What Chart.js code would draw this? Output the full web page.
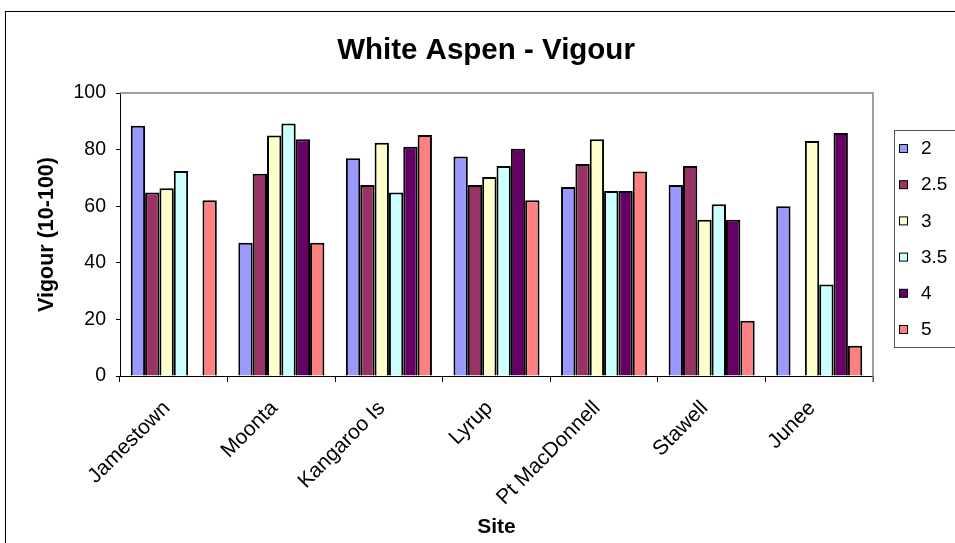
<!DOCTYPE html>
<html>
<head>
<meta charset="utf-8">
<script src="https://cdn.jsdelivr.net/npm/chart.js@4"></script>
<style>
  html, body { margin: 0; padding: 0; background: #fff; }
  #wrap { width: 955px; height: 543px; }
</style>
</head>
<body>
<div id="wrap"><canvas id="chart1" width="955" height="543"></canvas></div>
<script>
// Vigour scores per site, one array per series
const sites = ['Jamestown', 'Moonta', 'Kangaroo Is', 'Lyrup', 'Pt MacDonnell', 'Stawell', 'Junee'];
const s2   = [88.4, 47.1, 76.9, 77.6, 66.8, 67.5, 60.0];
const s2_5 = [64.8, 71.5, 67.5, 67.5, 74.9, 74.2, null];
const s3   = [66.3, 85.0, 82.4, 70.3, 83.7, 55.2, 83.0];
const s3_5 = [72.4, 89.2, 64.8, 74.2, 65.4, 60.7, 32.3];
const s4   = [null, 83.7, 81.0, 80.3, 65.4, 55.2, 85.9];
const s5   = [62.1, 47.1, 85.2, 62.1, 72.3, 19.5, 10.7];
const seriesNames = ['2', '2.5', '3', '3.5', '4', '5'];
const seriesValues = [s2, s2_5, s3, s3_5, s4, s5];
const yTicks = [0, 20, 40, 60, 80, 100];

const colours = ['#9999FF', '#993366', '#FFFFCC', '#CCFFFF', '#660066', '#FF8080'];
const FONT = '"Liberation Sans", Arial, sans-serif';

Chart.defaults.font.family = FONT;
Chart.defaults.color = '#000';

// title, frame, plot border and legend box
const excelBits = {
    id: 'excelBits',
    beforeDraw(chart) {
        const ctx = chart.ctx;
        ctx.save();
        ctx.fillStyle = '#fff';
        ctx.fillRect(0, 0, chart.width, chart.height);
        ctx.strokeStyle = '#000';
        ctx.lineWidth = 1;
        ctx.strokeRect(5.5, 11.5, 1200, 1000);
        ctx.restore();
    },
    afterDraw(chart) {
        const ctx = chart.ctx;
        const a = chart.chartArea;
        ctx.save();
        // plot area border (top + right)
        ctx.strokeStyle = '#808080';
        ctx.lineWidth = 1.5;
        ctx.beginPath();
        ctx.moveTo(a.left, a.top);
        ctx.lineTo(a.right, a.top);
        ctx.lineTo(a.right, a.bottom + 6);
        ctx.stroke();

        // title
        ctx.fillStyle = '#000';
        ctx.font = 'bold 29.5px ' + FONT;
        ctx.textAlign = 'center';
        ctx.textBaseline = 'middle';
        ctx.fillText('White Aspen - Vigour', 486, 51);

        // legend
        ctx.strokeStyle = '#555';
        ctx.lineWidth = 1;
        ctx.strokeRect(894.5, 130.5, 62, 217);
        ctx.font = '19px ' + FONT;
        ctx.textAlign = 'left';
        chart.data.datasets.forEach((ds, i) => {
            const cy = 148 + i * 36.2;
            ctx.fillStyle = ds.backgroundColor;
            ctx.fillRect(899.5, cy - 3.5, 8, 8);
            ctx.strokeStyle = '#000';
            ctx.strokeRect(899.5, cy - 3.5, 8, 8);
            ctx.fillStyle = '#000';
            ctx.fillText(ds.label, 921, cy + 1);
        });
        ctx.restore();
    }
};

const ctx = document.getElementById('chart1').getContext('2d');
new Chart(ctx, {
    type: 'bar',
    data: {
        labels: sites,
        datasets: seriesNames.map((name, i) => ({
            label: name,
            data: seriesValues[i],
            backgroundColor: colours[i],
            borderColor: '#000',
            borderWidth: 2,
            categoryPercentage: 0.8,
            barPercentage: 1.0
        }))
    },
    options: {
        responsive: false,
        animation: false,
        layout: { padding: { top: 93, right: 82, left: 0, bottom: 0 } },
        plugins: {
            legend: { display: false },
            tooltip: { enabled: false },
            title: { display: false }
        },
        scales: {
            x: {
                grid: { offset: true, drawOnChartArea: false, tickLength: 6, color: '#000' },
                border: { color: '#000', width: 1 },
                ticks: { minRotation: 45, maxRotation: 45, autoSkip: false, font: { size: 21 }, padding: 14, labelOffset: -7 },
                title: { display: true, text: 'Site', font: { size: 21, weight: 'bold' }, padding: { top: 0, bottom: 3 } },
                afterFit: s => { s.height = 167; }
            },
            y: {
                min: yTicks[0],
                max: yTicks[yTicks.length - 1],
                ticks: { stepSize: yTicks[1] - yTicks[0], font: { size: 19.5 }, padding: 10 },
                grid: { drawOnChartArea: false, tickLength: 4, color: '#000' },
                border: { color: '#000', width: 1 },
                title: { display: true, text: 'Vigour (10-100)', font: { size: 21.5, weight: 'bold' }, padding: { top: 34, bottom: 0 } },
                afterFit: s => { s.width = 120; }
            }
        }
    },
    plugins: [excelBits]
});
</script>
</body>
</html>
